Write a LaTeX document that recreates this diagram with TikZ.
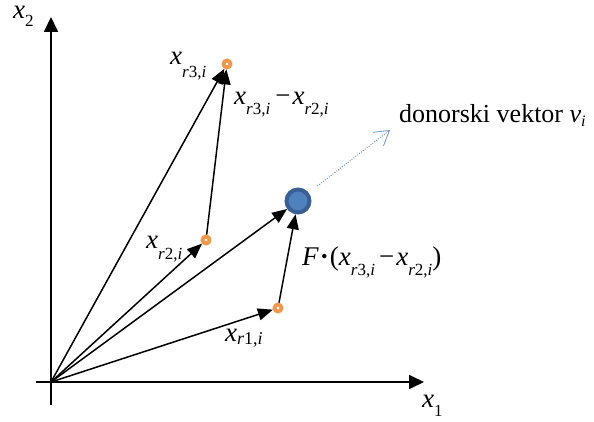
\documentclass[tikz,border=0pt]{standalone}
\usepackage{fontspec}
\setmainfont{LiberationSerif-Regular.ttf}[ItalicFont=LiberationSerif-Italic.ttf,BoldFont=LiberationSerif-Bold.ttf,BoldItalicFont=LiberationSerif-BoldItalic.ttf]
\newfontfamily\tnr{LiberationSerif-Regular.ttf}[ItalicFont=LiberationSerif-Italic.ttf,BoldFont=LiberationSerif-Bold.ttf,BoldItalicFont=LiberationSerif-BoldItalic.ttf]
\usetikzlibrary{arrows.meta}
\definecolor{ptorange}{HTML}{F79646}
\definecolor{dblue}{HTML}{3A5F94}
\definecolor{fblue}{HTML}{4F81BD}
\definecolor{lblue}{HTML}{6A96D0}
\newcommand{\lblsub}[3][17]{\raisebox{-#2}{\fontsize{#1}{#1}\selectfont #3}}
\tikzset{
  axis/.style={line width=1.8pt,-{Triangle[length=15pt,width=14pt]}},
  vec/.style={line width=1.5pt,-{Triangle[length=15pt,width=12pt]}},
  orangept/.style={circle,draw=ptorange,line width=3.8pt,fill=white,minimum size=7pt,inner sep=0pt},
  donor/.style={circle,draw=dblue,fill=fblue,line width=4pt,minimum size=23pt,inner sep=0pt},
  lbl/.style={anchor=base west,inner sep=0pt,font=\tnr\fontsize{27}{30}\selectfont},
  dotvec/.style={draw=lblue,line width=0.9pt,dash pattern=on 1pt off 1.4pt,shorten <=11pt,-{Straight Barb[length=14pt,width=17pt,line width=0.8pt]}}
}
\begin{document}
\begin{tikzpicture}[x=1pt,y=1pt]
\useasboundingbox (0,0) rectangle (594,421);
% axes
\coordinate (O) at (51,39);
\coordinate (yb) at (51,16);
\coordinate (yt) at (51,404);
\coordinate (xl) at (36,39);
\coordinate (xr) at (424,39);
\draw[axis] (yb) -- (yt);
\draw[axis] (xl) -- (xr);
% points
\node[orangept] (r3) at (227,357) {};
\node[orangept] (r2) at (206,181) {};
\node[orangept] (r1) at (278,113) {};
\node[donor] (D) at (298,220) {};
\coordinate (dv) at (390,291);
% vectors
\draw[vec] (O) -- (r3);
\draw[vec] (O) -- (r2);
\draw[vec] (O) -- (D);
\draw[vec] (O) -- (r1);
\draw[vec] (r2) -- (r3);
\draw[vec] (r1) -- (D);
\draw[dotvec] (D) -- (dv);
% labels
\node[lbl] (lx2) at (13,402) {\textit{x}\lblsub{8pt}{2}};
\node[lbl] (lx1) at (422,14) {\textit{x}\lblsub{9pt}{1}};
\node[lbl] (lr3) at (170,356) {\textit{x}\lblsub{13pt}{\textit{r}3,\textit{i}}};
\node[lbl] (ldiff) at (234,316) {\textit{x}\lblsub{10pt}{\textit{r}3,\textit{i}}\hspace{5pt}−\hspace{2pt}\textit{x}\lblsub{10pt}{\textit{r}2,\textit{i}}};
\node[lbl,font=\tnr\fontsize{26}{30}\selectfont] (ldon) at (399,298) {donorski vektor \textit{v}\lblsub[16]{4pt}{\textit{i}}};
\node[lbl] (lr2) at (146,173) {\textit{x}\lblsub{11pt}{\textit{r}2,\textit{i}}};
\node[lbl] (lF) at (302,156) {\textit{F}\hspace{1pt}{\bfseries ·}\hspace{1pt}(\textit{x}\lblsub{10pt}{\textit{r}3,\textit{i}}\hspace{4pt}−\hspace{2pt}\textit{x}\lblsub{10pt}{\textit{r}2,\textit{i}})};
\node[lbl] (lr1) at (225,80) {\textit{x}\lblsub[18]{3pt}{\textit{r}1,\textit{i}}};
\end{tikzpicture}
\end{document}
